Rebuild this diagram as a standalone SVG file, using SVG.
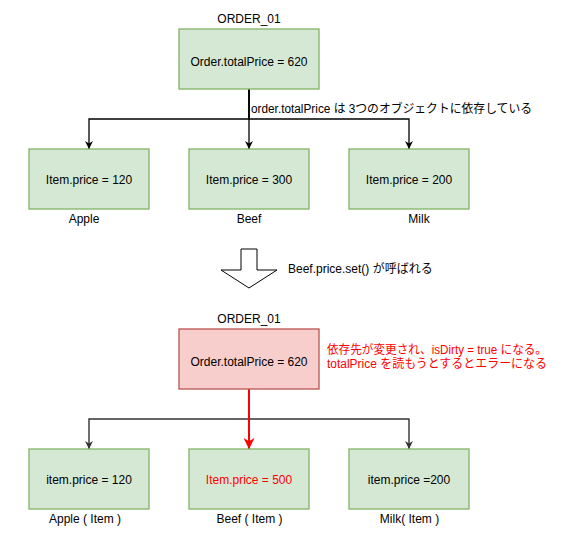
<svg xmlns="http://www.w3.org/2000/svg" width="586" height="549" viewBox="0 0 586 549">
<style>
text{font-family:"Liberation Sans","Noto Sans CJK JP",Arial,sans-serif;font-size:12px;fill:#000}
.c{text-anchor:middle}
.red{fill:#ff0000}
.box{fill:#d5e8d4;stroke:#82b366;stroke-width:1.3}
.rbox{fill:#f8cecc;stroke:#b85450;stroke-width:1.3}
.ln{fill:none;stroke:#000;stroke-width:1.3}
.ln2{fill:none;stroke:#333;stroke-width:1.4}
.rl{fill:none;stroke:#ff0000;stroke-width:2}
</style>
<defs>
<marker id="ab" viewBox="0 0 10 10" refX="10" refY="5" markerWidth="8" markerHeight="8" markerUnits="userSpaceOnUse" orient="auto"><path d="M0,0 L10,5 L0,10 L3,5 Z" fill="#000"/></marker>
<marker id="ag" viewBox="0 0 10 10" refX="10" refY="5" markerWidth="8" markerHeight="8" markerUnits="userSpaceOnUse" orient="auto"><path d="M0,0 L10,5 L0,10 L3,5 Z" fill="#333"/></marker>
<marker id="ar" viewBox="0 0 10 10" refX="10" refY="5" markerWidth="12" markerHeight="11" markerUnits="userSpaceOnUse" orient="auto"><path d="M0,0 L10,5 L0,10 L3,5 Z" fill="#ff0000"/></marker>
</defs>
<rect width="586" height="549" fill="#fff"/>

<g id="connectors">
<path class="ln" d="M249,89 V119 H89 V149" marker-end="url(#ab)"/>
<path class="ln" d="M249,89 V149" marker-end="url(#ab)"/>
<path class="ln" d="M249,89 V119 H409 V149" marker-end="url(#ab)"/>
<path class="ln2" d="M249,389 V419 H89 V449" marker-end="url(#ag)"/>
<path class="ln2" d="M249,389 V419 H409 V449" marker-end="url(#ag)"/>
<path class="rl" d="M249,389 V449" marker-end="url(#ar)"/>
</g>
<text x="251" y="113" textLength="281" lengthAdjust="spacingAndGlyphs">order.totalPrice は 3つのオブジェクトに依存している</text>

<g id="order1">
<text class="c" x="249" y="23">ORDER_01</text>
<rect class="box" x="179" y="29" width="140" height="60"/>
<text class="c" x="249" y="66">Order.totalPrice = 620</text>
</g>
<g id="apple1">
<rect class="box" x="29" y="149" width="120" height="60"/>
<text class="c" x="89" y="183.5">Item.price = 120</text>
<text class="c" x="84" y="223">Apple</text>
</g>
<g id="beef1">
<rect class="box" x="189" y="149" width="120" height="60"/>
<text class="c" x="249" y="183.5">Item.price = 300</text>
<text class="c" x="249" y="223">Beef</text>
</g>
<g id="milk1">
<rect class="box" x="349" y="149" width="120" height="60"/>
<text class="c" x="409" y="183.5">Item.price = 200</text>
<text class="c" x="419" y="223">Milk</text>
</g>

<g id="transition">
<polygon points="241,249 257,249 257,270 277,270 249,288 221,270 241,270" fill="#fff" stroke="#000" stroke-width="1"/>
<text x="288" y="273">Beef.price.set() が呼ばれる</text>
</g>

<g id="order2">
<text class="c" x="249" y="323">ORDER_01</text>
<rect class="rbox" x="179" y="329" width="140" height="60"/>
<text class="c" x="249" y="366">Order.totalPrice = 620</text>
</g>
<g id="note">
<text class="red" x="327" y="353.5" textLength="220" lengthAdjust="spacingAndGlyphs">依存先が変更され、isDirty = true になる。</text>
<text class="red" x="327" y="367.5" textLength="220" lengthAdjust="spacingAndGlyphs">totalPrice を読もうとするとエラーになる</text>
</g>
<g id="apple2">
<rect class="box" x="29" y="449" width="120" height="60"/>
<text class="c" x="89" y="484">item.price = 120</text>
<text class="c" x="85" y="523">Apple ( Item )</text>
</g>
<g id="beef2">
<rect class="box" x="189" y="449" width="120" height="60"/>
<text class="c red" x="249" y="484">Item.price = 500</text>
<text class="c" x="249.5" y="523">Beef ( Item )</text>
</g>
<g id="milk2">
<rect class="box" x="349" y="449" width="120" height="60"/>
<text class="c" x="409" y="484">item.price =200</text>
<text class="c" x="409.5" y="523">Milk( Item )</text>
</g>
</svg>
